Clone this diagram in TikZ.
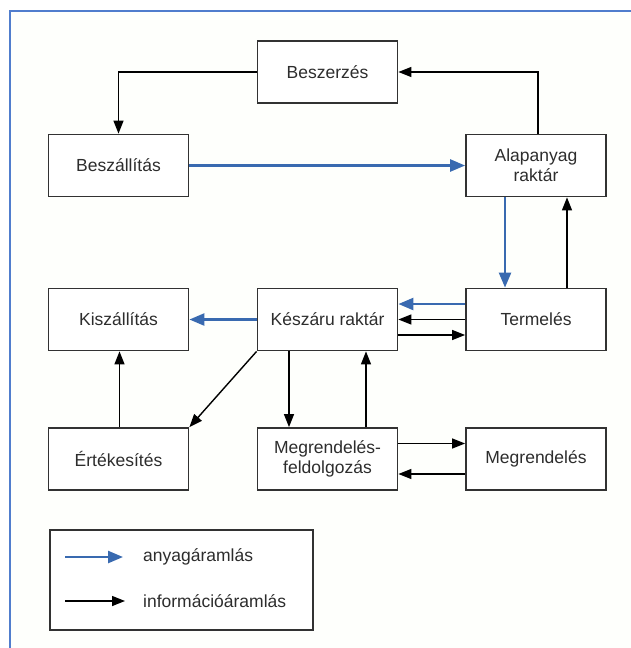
\documentclass[tikz,border=0pt]{standalone}
\usepackage{fontspec}
\setmainfont{Liberation Sans}
\usetikzlibrary{arrows.meta,calc}
\definecolor{flowblue}{RGB}{57,106,176}
\definecolor{frameblue}{RGB}{80,125,205}
\definecolor{boxgray}{RGB}{50,50,50}
\definecolor{txtgray}{RGB}{45,45,45}
\definecolor{bgcream}{RGB}{254,255,252}
\tikzset{
  box/.style={draw=boxgray, line width=1.8pt, fill=white, minimum width=140pt, minimum height=62pt,
    inner sep=0pt, align=center, text=txtgray, font=\fontsize{17.5}{20}\selectfont},
  info/.style={draw=black, line width=1.4pt, -{Triangle[length=13pt,width=10pt]}},
  mat/.style={draw=flowblue, line width=2.4pt, -{Triangle[length=15pt,width=12pt]}},
  legtxt/.style={anchor=west, inner sep=0pt, text=txtgray, font=\fontsize{17.5}{20}\selectfont}
}
\begin{document}
\begin{tikzpicture}[x=1pt,y=-1pt]
\useasboundingbox (0,0) rectangle (631,648);
\fill[white] (0,0) rectangle (631,648);
\fill[bgcream] (10,11) rectangle (631,648);
\draw[frameblue, line width=2.5pt] (10,648) -- (10,11) -- (631,11);

% nodes
\node[box] (besz)   at (327.5,72)    {Beszerzés};
\node[box] (beszall) at (118.5,165.5) {Beszállítás};
\node[box] (alap)   at (536,165.5)   {Alapanyag\\raktár};
\node[box] (kisz)   at (118.5,319.5) {Kiszállítás};
\node[box] (kesz)   at (327.5,319.5) {Készáru raktár};
\node[box] (term)   at (536,319.5)   {Termelés};
\node[box] (ertek)  at (118.5,459)   {Értékesítés};
\node[box] (megfel) at (327.5,459)   {Megrendelés-\\feldolgozás};
\node[box] (megr)   at (536,459)     {Megrendelés};

% connectors
\draw[info] (besz.west) -| (beszall.north);
\draw[info] ([xshift=2pt]alap.north) |- (besz.east);
\draw[mat] (beszall.east) -- (alap.west);
\draw[mat] ([xshift=-31pt]alap.south) -- ([xshift=-31pt]term.north);
\draw[info] ([xshift=31pt]term.north) -- ([xshift=31pt]alap.south);
\draw[mat] ([yshift=15.5pt]term.west) -- ([yshift=15.5pt]kesz.east);
\draw[info] (term.west) -- (kesz.east);
\draw[info] ([yshift=-15.5pt]kesz.east) -- ([yshift=-15.5pt]term.west);
\draw[mat] (kesz.west) -- (kisz.east);
\draw[info] ([xshift=1pt]ertek.north) -- ([xshift=1pt]kisz.south);
\draw[info] (kesz.south west) -- (ertek.north east);
\draw[info] ([xshift=-38.5pt]kesz.south) -- ([xshift=-38.5pt]megfel.north);
\draw[info] ([xshift=38.5pt]megfel.north) -- ([xshift=38.5pt]kesz.south);
\draw[info] ([yshift=15.5pt]megfel.east) -- ([yshift=15.5pt]megr.west);
\draw[info] ([yshift=-15pt]megr.west) -- ([yshift=-15pt]megfel.east);

% legend
\node[draw=boxgray, line width=1.8pt, fill=white, minimum width=263pt, minimum height=100pt, inner sep=0pt] (leg) at (181.5,580) {};
\coordinate (la1) at (65,557);
\coordinate (la2) at (123,557);
\coordinate (lb1) at (65,601);
\coordinate (lb2) at (125,601);
\draw[mat] (la1) -- (la2);
\draw[info] (lb1) -- (lb2);
\node[legtxt] (lt1) at (143,557) {anyagáramlás};
\node[legtxt] (lt2) at (143,601) {információáramlás};
\end{tikzpicture}
\end{document}
